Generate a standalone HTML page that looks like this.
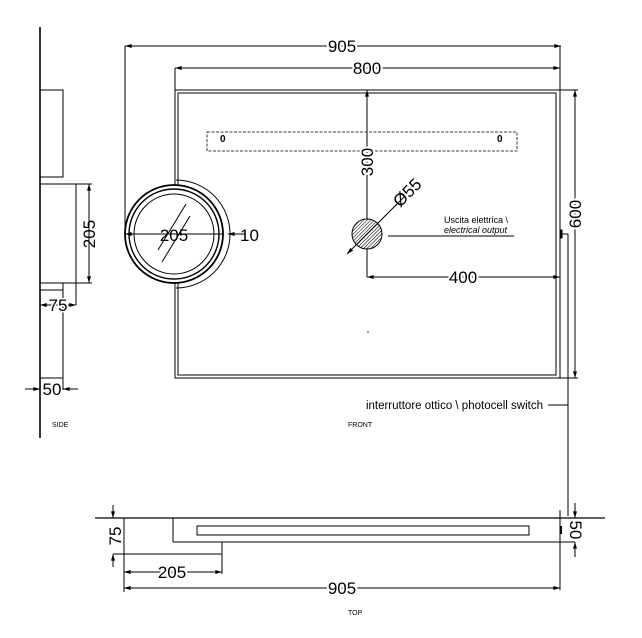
<!DOCTYPE html>
<html><head><meta charset="utf-8"><style>
html,body{margin:0;padding:0;background:#fff;}
svg{display:block;}
text{font-family:"Liberation Sans",sans-serif;fill:#000;}
</style></head><body>
<svg width="642" height="638" viewBox="0 0 642 638" xmlns="http://www.w3.org/2000/svg">
<defs>
<marker id="a" viewBox="0 0 10 6" refX="10" refY="3" markerWidth="8" markerHeight="4" orient="auto-start-reverse" markerUnits="userSpaceOnUse"><path d="M0,0L10,3L0,6z" fill="#000"/></marker>
<pattern id="h" width="2.5" height="2.5" patternUnits="userSpaceOnUse" patternTransform="rotate(45)"><rect width="2.5" height="2.5" fill="#fff"/><line x1="0" y1="0" x2="0" y2="2.5" stroke="#000" stroke-width="1.1"/></pattern>
</defs>
<g fill="none" stroke="#000" stroke-width="1">
<!-- SIDE -->
<line x1="40" y1="27" x2="40" y2="438" stroke-width="1.6"/>
<rect x="40" y="90" width="23" height="87"/>
<line x1="40" y1="177" x2="63" y2="177"/>
<rect x="40" y="184" width="36" height="99"/>
<line x1="40" y1="290" x2="63" y2="290"/>
<line x1="63" y1="283" x2="63" y2="390"/>
<line x1="40" y1="378" x2="63" y2="378"/>
<line x1="76" y1="283" x2="76" y2="305"/>
<line x1="76" y1="184" x2="92" y2="184"/><line x1="76" y1="283" x2="92" y2="283"/>
<line x1="89" y1="184" x2="89" y2="283" marker-start="url(#a)" marker-end="url(#a)"/>
<line x1="40" y1="305" x2="76" y2="305" marker-start="url(#a)" marker-end="url(#a)"/>
<line x1="25" y1="389" x2="40" y2="389" marker-end="url(#a)"/>
<line x1="78" y1="389" x2="63" y2="389" marker-end="url(#a)"/>
<!-- FRONT -->
<rect x="175" y="90" width="385" height="288"/>
<rect x="178" y="93" width="378" height="282"/>
<rect x="207" y="132" width="310" height="19" stroke-dasharray="3,1.5" stroke-width="0.8"/>
<path d="M176,180 A54,54 0 0 1 176,288" stroke-width="1"/>
<circle cx="174" cy="234" r="49" fill="#fff" stroke-width="1.8"/>
<circle cx="174" cy="234" r="45" stroke-width="1.4"/>
<circle cx="174" cy="234" r="40"/>
<line x1="158" y1="250" x2="186" y2="204"/>
<line x1="162" y1="262" x2="190" y2="216"/>
<line x1="125" y1="234" x2="222" y2="234" marker-start="url(#a)"/>
<line x1="245" y1="234" x2="228" y2="234" marker-end="url(#a)"/>
<line x1="125" y1="46" x2="125" y2="234"/>
<line x1="125" y1="46" x2="561" y2="46" marker-start="url(#a)" marker-end="url(#a)"/>
<line x1="175" y1="68" x2="175" y2="90"/>
<line x1="175" y1="68" x2="560" y2="68" marker-start="url(#a)" marker-end="url(#a)"/>
<line x1="560" y1="46" x2="560" y2="378"/>
<line x1="560" y1="90" x2="578" y2="90"/><line x1="560" y1="378" x2="578" y2="378"/>
<line x1="575" y1="90" x2="575" y2="378" marker-start="url(#a)" marker-end="url(#a)"/>
<line x1="367" y1="90" x2="367" y2="277" marker-start="url(#a)"/>
<line x1="367" y1="277" x2="560" y2="277" marker-start="url(#a)" marker-end="url(#a)"/>
<circle cx="367" cy="234" r="15" fill="url(#h)"/>
<line x1="347" y1="254" x2="405" y2="196" marker-start="url(#a)"/>
<line x1="388" y1="236" x2="514" y2="236"/>
<line x1="568" y1="234" x2="568" y2="516"/>
<line x1="561" y1="234" x2="568" y2="234"/>
<rect x="560" y="230" width="2" height="8" fill="#000"/>
<line x1="548" y1="405" x2="568" y2="405"/>
<!-- TOP -->
<line x1="95" y1="518" x2="605" y2="518" stroke-width="1.2"/>
<line x1="173" y1="518" x2="173" y2="542"/>
<line x1="173" y1="542" x2="575" y2="542"/>
<rect x="197" y="526" width="332" height="9"/>
<line x1="560" y1="510" x2="560" y2="590"/>
<line x1="561" y1="526" x2="561" y2="534" stroke-width="2"/>
<line x1="124" y1="518" x2="124" y2="592"/>
<line x1="113" y1="554" x2="222" y2="554"/>
<line x1="222" y1="542" x2="222" y2="574"/>
<line x1="124" y1="572" x2="222" y2="572" marker-start="url(#a)" marker-end="url(#a)"/>
<line x1="124" y1="588" x2="560" y2="588" marker-start="url(#a)" marker-end="url(#a)"/>
<line x1="113" y1="505" x2="113" y2="518" marker-end="url(#a)"/>
<line x1="113" y1="567" x2="113" y2="554" marker-end="url(#a)"/>
<line x1="575" y1="503" x2="575" y2="518" marker-end="url(#a)"/>
<line x1="575" y1="557" x2="575" y2="542" marker-end="url(#a)"/>
</g>
<!-- text -->
<g font-size="17">
<text x="342" y="52" text-anchor="middle" style="paint-order:stroke" stroke="#fff" stroke-width="4">905</text>
<text x="367" y="74" text-anchor="middle" style="paint-order:stroke" stroke="#fff" stroke-width="4">800</text>
<text x="174" y="241" text-anchor="middle">205</text>
<text x="240" y="241">10</text>
<text x="463" y="283" text-anchor="middle" style="paint-order:stroke" stroke="#fff" stroke-width="4">400</text>
<text transform="translate(373,162) rotate(-90)" text-anchor="middle" style="paint-order:stroke" stroke="#fff" stroke-width="4">300</text>
<text transform="translate(581,214) rotate(-90)" text-anchor="middle" style="paint-order:stroke" stroke="#fff" stroke-width="4">600</text>
<text transform="translate(95,234) rotate(-90)" text-anchor="middle">205</text>
<text x="58" y="311" text-anchor="middle" style="paint-order:stroke" stroke="#fff" stroke-width="3">75</text>
<text x="52" y="395" text-anchor="middle" style="paint-order:stroke" stroke="#fff" stroke-width="3">50</text>
<text transform="translate(400,208) rotate(-45)">Ø55</text>
<text x="172" y="578" text-anchor="middle" style="paint-order:stroke" stroke="#fff" stroke-width="4">205</text>
<text x="342" y="594" text-anchor="middle" style="paint-order:stroke" stroke="#fff" stroke-width="4">905</text>
<text transform="translate(121,536) rotate(-90)" text-anchor="middle">75</text>
<text transform="translate(570,530) rotate(90)" text-anchor="middle">50</text>
</g>
<text x="220" y="142" font-size="10" font-weight="bold">0</text>
<text x="497" y="142" font-size="10" font-weight="bold">0</text>
<text x="444" y="223" font-size="9" fill="#333">Uscita elettrica \</text>
<text x="444" y="233" font-size="9" font-style="italic" fill="#333">electrical output</text>
<text x="543" y="409" font-size="11.5" text-anchor="end">interruttore ottico \ photocell switch</text>
<text x="52" y="427" font-size="7">SIDE</text>
<text x="348" y="427" font-size="7">FRONT</text>
<text x="348" y="615" font-size="7">TOP</text>
<circle cx="368" cy="332" r="0.7" fill="#000"/>
</svg>
</body></html>
